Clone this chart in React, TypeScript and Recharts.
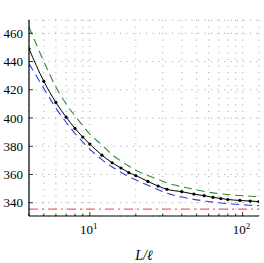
import { CartesianGrid, Line, LineChart, XAxis, YAxis } from "recharts"

const sizes = [4, 5, 6, 7, 8, 9, 10, 12, 14, 16, 18, 20, 24, 28, 32, 40, 48, 56, 64, 72, 80, 96, 112, 128]
const simulated = [449, 426, 411, 400.6, 392.6, 386.5, 381.5, 373.7, 368.3, 364.6, 361.3, 359.2, 355.1, 351.8, 349.5, 347.8, 346.1, 345, 343.8, 343, 342.3, 341.6, 341.2, 340.8]
const lowerFit = [438.5, 421, 407, 397, 389, 383, 378, 370.5, 365.3, 361.6, 358.5, 356.2, 352.3, 349.2, 346.7, 344, 342.4, 341.3, 340.4, 339.8, 339.3, 338.7, 338.2, 337.9]
const upperFit = [464.5, 440, 422, 410, 401.5, 394.5, 388.5, 381, 374, 369.5, 366, 363, 359.3, 356.5, 354, 351.3, 349.5, 348, 347, 346.3, 345.8, 345.1, 344.6, 344.3]
const limitValue = 335.5

const xTicks = [4, 5, 6, 7, 8, 9, 10, 20, 30, 40, 50, 60, 70, 80, 90, 100]
const xMajor = [10, 100]
const yTicks = [340, 360, 380, 400, 420, 440, 460]

const data = sizes.map((L, i) => ({
  L,
  sim: simulated[i],
  low: lowerFit[i],
  high: upperFit[i],
  limit: limitValue,
}))

const serif = "Liberation Serif"

function BottomTick(props: any) {
  const { x, y, payload } = props
  const major = xMajor.includes(payload.value)
  const exp = Math.round(Math.log10(payload.value))
  return (
    <g>
      <line x1={x} x2={x} y1={y} y2={y - (major ? 4 : 2.5)} stroke="#000" strokeWidth={0.8} />
      {major && (
        <text x={x - 1} y={y + 17.5} textAnchor="middle" fontFamily={serif} fontSize={13} fill="#000">
          10
          <tspan dy={-5} fontSize={9}>
            {exp}
          </tspan>
        </text>
      )}
    </g>
  )
}

function TopTick(props: any) {
  const { x, y, payload } = props
  const major = xMajor.includes(payload.value)
  return <line x1={x} x2={x} y1={y} y2={y + (major ? 4 : 2.5)} stroke="#000" strokeWidth={0.8} />
}

export default function App() {
  return (
    <div style={{ position: "absolute", left: 0, top: 0 }}>
      <LineChart width={264} height={263} data={data} margin={{ top: 20, right: 5, bottom: 0, left: 0 }}>
        <CartesianGrid stroke="#8a8a8a" strokeWidth={0.8} strokeDasharray="1 5.5" xAxisId="bottom" yAxisId="left" />
        <XAxis
          xAxisId="bottom"
          dataKey="L"
          type="number"
          scale="log"
          domain={[4, 128]}
          allowDataOverflow
          ticks={xTicks}
          interval={0}
          height={47}
          tickSize={0}
          tickMargin={0}
          tickLine={false}
          tick={<BottomTick />}
          axisLine={{ stroke: "#000", strokeWidth: 1.2 }}
          label={{ value: "L/ℓ", position: "insideBottom", offset: 3, fontFamily: serif, fontStyle: "italic", fontSize: 14, fill: "#000" }}
        />
        <XAxis
          xAxisId="top"
          orientation="top"
          dataKey="L"
          type="number"
          scale="log"
          domain={[4, 128]}
          allowDataOverflow
          ticks={xTicks}
          interval={0}
          height={0}
          tickSize={0}
          tickMargin={0}
          tickLine={false}
          tick={<TopTick />}
          axisLine={{ stroke: "#000", strokeWidth: 1.2 }}
        />
        <YAxis
          yAxisId="left"
          type="number"
          domain={[330.6, 469.4]}
          allowDataOverflow
          ticks={yTicks}
          interval={0}
          width={29}
          tickSize={-4}
          tickMargin={10}
          tickLine={{ stroke: "#000", strokeWidth: 0.8 }}
          axisLine={{ stroke: "#000", strokeWidth: 1.2 }}
          tick={{ fontFamily: serif, fontSize: 13, fill: "#000" }}
        />
        <YAxis
          yAxisId="right"
          orientation="right"
          type="number"
          domain={[330.6, 469.4]}
          allowDataOverflow
          ticks={yTicks}
          interval={0}
          width={0}
          tickSize={-4}
          tick={false}
          tickLine={{ stroke: "#000", strokeWidth: 0.8 }}
          axisLine={{ stroke: "#000", strokeWidth: 1.2 }}
        />
        <Line
          xAxisId="bottom"
          yAxisId="left"
          dataKey="limit"
          stroke="#f06666"
          strokeWidth={1.1}
          strokeDasharray="9 4 2 4"
          dot={false}
          isAnimationActive={false}
        />
        <Line
          xAxisId="bottom"
          yAxisId="left"
          type="monotone"
          dataKey="high"
          stroke="#2e8b2e"
          strokeWidth={1.1}
          strokeDasharray="8 5"
          dot={false}
          isAnimationActive={false}
        />
        <Line
          xAxisId="bottom"
          yAxisId="left"
          type="monotone"
          dataKey="low"
          stroke="#2b3fe8"
          strokeWidth={1.1}
          strokeDasharray="8 5"
          dot={false}
          isAnimationActive={false}
        />
        <Line
          xAxisId="bottom"
          yAxisId="left"
          type="monotone"
          dataKey="sim"
          stroke="#000"
          strokeWidth={1}
          dot={{ r: 1.6, fill: "#000", stroke: "none" }}
          isAnimationActive={false}
        />
      </LineChart>
    </div>
  )
}
